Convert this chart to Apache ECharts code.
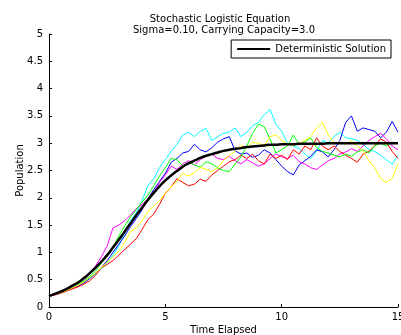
<!DOCTYPE html>
<html>
<head>
<meta charset="utf-8">
<script src="https://cdn.jsdelivr.net/npm/echarts@6/dist/echarts.min.js"></script>
<style>
	html, body { margin: 0; padding: 0; background: #fff; }
	#chart { width: 401px; height: 335px; }
</style>
</head>
<body>
<div id="chart"></div>
<script>
// time grid (read every 0.25)
var times = [0, 0.25, 0.5, 0.75, 1, 1.25, 1.5, 1.75, 2, 2.25, 2.5, 2.75, 3, 3.25, 3.5, 3.75,
	4, 4.25, 4.5, 4.75, 5, 5.25, 5.5, 5.75, 6, 6.25, 6.5, 6.75, 7, 7.25, 7.5, 7.75,
	8, 8.25, 8.5, 8.75, 9, 9.25, 9.5, 9.75, 10, 10.25, 10.5, 10.75, 11, 11.25, 11.5, 11.75,
	12, 12.25, 12.5, 12.75, 13, 13.25, 13.5, 13.75, 14, 14.25, 14.5, 14.75, 15];

var deterministic = [0.20, 0.24, 0.28, 0.33, 0.39, 0.45, 0.53, 0.62, 0.72, 0.83, 0.95, 1.09, 1.23, 1.38, 1.53, 1.68,
	1.82, 1.96, 2.09, 2.21, 2.32, 2.41, 2.49, 2.57, 2.63, 2.68, 2.73, 2.77, 2.80, 2.83, 2.86, 2.88,
	2.90, 2.91, 2.93, 2.94, 2.95, 2.96, 2.97, 2.97, 2.98, 2.98, 2.98, 2.99, 2.99, 2.99, 2.99, 2.99,
	3.00, 3.00, 3.00, 3.00, 3.00, 3.00, 3.00, 3.00, 3.00, 3.00, 3.00, 3.00, 3.00];

var pathCyan = [0.20, 0.23, 0.27, 0.31, 0.36, 0.41, 0.47, 0.53, 0.60, 0.70, 0.80, 0.95, 1.12, 1.35, 1.58, 1.72,
	1.95, 2.22, 2.35, 2.55, 2.70, 2.85, 2.98, 3.15, 3.20, 3.12, 3.22, 3.27, 3.05, 3.12, 3.18, 3.20,
	3.28, 3.12, 3.20, 3.32, 3.38, 3.52, 3.62, 3.35, 3.22, 3.00, 2.95, 2.90, 2.80, 2.72, 2.85, 3.05,
	3.00, 3.12, 3.20, 3.10, 3.08, 3.05, 2.98, 2.88, 2.85, 2.78, 2.70, 2.62, 2.78];

var pathBlue = [0.20, 0.23, 0.26, 0.30, 0.34, 0.38, 0.44, 0.52, 0.62, 0.72, 0.85, 1.00, 1.15, 1.30, 1.47, 1.62,
	1.78, 1.98, 2.15, 2.30, 2.45, 2.65, 2.72, 2.82, 2.85, 2.98, 2.88, 2.84, 2.92, 3.02, 3.08, 3.12,
	2.86, 2.80, 2.82, 2.74, 2.78, 2.88, 2.82, 2.70, 2.58, 2.48, 2.42, 2.60, 2.68, 2.76, 2.88, 2.84,
	2.75, 2.88, 3.05, 3.38, 3.50, 3.22, 3.28, 3.25, 3.22, 3.10, 3.20, 3.40, 3.20];

var pathMagenta = [0.20, 0.23, 0.27, 0.31, 0.36, 0.42, 0.50, 0.60, 0.75, 0.92, 1.12, 1.45, 1.50, 1.58, 1.68, 1.80,
	1.88, 1.98, 2.10, 2.28, 2.42, 2.58, 2.52, 2.62, 2.68, 2.60, 2.70, 2.76, 2.80, 2.72, 2.70, 2.76,
	2.68, 2.62, 2.70, 2.64, 2.58, 2.62, 2.72, 2.80, 2.75, 2.72, 2.78, 2.66, 2.62, 2.55, 2.52, 2.60,
	2.68, 2.72, 2.80, 2.84, 2.90, 2.85, 2.95, 3.05, 3.12, 3.18, 3.08, 2.95, 2.88];

var pathRed = [0.20, 0.22, 0.25, 0.29, 0.33, 0.37, 0.42, 0.48, 0.58, 0.72, 0.78, 0.85, 0.95, 1.05, 1.15, 1.25,
	1.42, 1.60, 1.70, 1.88, 2.08, 2.20, 2.35, 2.28, 2.22, 2.25, 2.34, 2.30, 2.42, 2.50, 2.58, 2.66,
	2.70, 2.78, 2.72, 2.80, 2.68, 2.62, 2.80, 2.72, 2.78, 2.70, 2.88, 2.80, 2.95, 2.88, 3.10, 2.95,
	2.88, 2.95, 2.85, 2.78, 2.72, 2.65, 2.80, 2.85, 2.95, 3.08, 3.02, 2.85, 2.72];

var pathGreen = [0.20, 0.24, 0.28, 0.32, 0.37, 0.42, 0.48, 0.56, 0.66, 0.80, 0.95, 1.10, 1.30, 1.48, 1.65, 1.78,
	1.92, 2.05, 2.22, 2.40, 2.55, 2.72, 2.70, 2.58, 2.65, 2.60, 2.56, 2.66, 2.62, 2.55, 2.50, 2.48,
	2.62, 2.75, 2.95, 3.18, 3.35, 3.30, 3.08, 2.82, 2.88, 2.95, 3.15, 2.98, 3.02, 3.10, 2.92, 2.85,
	2.82, 2.78, 2.75, 2.80, 2.76, 2.84, 2.88, 2.82, 2.95, 3.00, 2.95, 3.02, 3.00];

var pathYellow = [0.20, 0.23, 0.26, 0.30, 0.35, 0.40, 0.46, 0.54, 0.62, 0.72, 0.82, 0.92, 1.02, 1.18, 1.38, 1.45,
	1.58, 1.75, 1.85, 1.95, 2.08, 2.20, 2.30, 2.45, 2.40, 2.45, 2.56, 2.52, 2.48, 2.55, 2.68, 2.78,
	2.85, 2.96, 2.92, 3.02, 3.00, 2.96, 3.12, 3.15, 3.05, 2.98, 2.95, 3.00, 3.05, 3.12, 3.28, 3.38,
	3.15, 3.00, 3.02, 2.98, 3.05, 2.95, 2.85, 2.68, 2.55, 2.35, 2.28, 2.36, 2.62];

var paths = [
	{ values: pathCyan, color: '#00ffff' },
	{ values: pathBlue, color: '#0000ff' },
	{ values: pathMagenta, color: '#ff00ff' },
	{ values: pathRed, color: '#ff0000' },
	{ values: pathGreen, color: '#00ff00' },
	{ values: pathYellow, color: '#ffff00' }
];

function pairs(values) {
	return times.map(function (t, i) { return [t, values[i]]; });
}

var myChart = echarts.init(document.getElementById('chart'));

var series = paths.map(function (p) {
	return {
		type: 'line',
		data: pairs(p.values),
		showSymbol: false,
		lineStyle: { color: p.color, width: 1 },
		animation: false
	};
});
series.push({
	name: 'Deterministic Solution',
	type: 'line',
	data: pairs(deterministic),
	showSymbol: false,
	smooth: true,
	lineStyle: { color: '#000', width: 2.5 },
	itemStyle: { color: '#000' },
	z: 5,
	animation: false
});

var font = 'DejaVu Sans, Verdana, sans-serif';

var option = {
	backgroundColor: '#fff',
	textStyle: { fontFamily: font },
	title: [{
		text: 'Stochastic Logistic Equation',
		left: 215,
		top: 9,
		textAlign: 'center',
		textStyle: { fontSize: 10, fontWeight: 'normal', color: '#000', fontFamily: font }
	}, {
		text: 'Sigma=0.10, Carrying Capacity=3.0',
		left: 219,
		top: 20,
		textAlign: 'center',
		textStyle: { fontSize: 10, fontWeight: 'normal', color: '#000', fontFamily: font }
	}],
	legend: {
		right: 10,
		top: 40,
		backgroundColor: '#fff',
		borderColor: '#000',
		borderWidth: 1,
		borderRadius: 0,
		padding: [4, 5, 4, 6],
		itemWidth: 33,
		itemHeight: 2,
		itemGap: 3,
		icon: 'rect',
		data: ['Deterministic Solution'],
		textStyle: { fontSize: 10, color: '#000', fontFamily: font }
	},
	grid: {
		left: 49,
		right: 3,
		top: 34,
		bottom: 28,
		outerBoundsMode: 'none'
	},
	xAxis: {
		type: 'value',
		min: 0,
		max: 15,
		interval: 5,
		name: 'Time Elapsed',
		nameLocation: 'middle',
		nameGap: 18,
		nameMoveOverlap: false,
		nameTextStyle: { fontSize: 10, color: '#000' },
		axisLine: { lineStyle: { color: '#000' } },
		axisTick: { inside: true, length: 3, lineStyle: { color: '#000' } },
		axisLabel: { fontSize: 10, color: '#000', margin: 5 },
		splitLine: { show: false }
	},
	yAxis: {
		type: 'value',
		min: 0,
		max: 5,
		interval: 0.5,
		name: 'Population',
		nameLocation: 'middle',
		nameGap: 24,
		nameMoveOverlap: false,
		nameTextStyle: { fontSize: 10, color: '#000' },
		axisLine: { lineStyle: { color: '#000' } },
		axisTick: { inside: true, length: 3, lineStyle: { color: '#000' } },
		axisLabel: { fontSize: 10, color: '#000', margin: 6 },
		splitLine: { show: false }
	},
	series: series,
	animation: false
};
myChart.setOption(option);
</script>
</body>
</html>
